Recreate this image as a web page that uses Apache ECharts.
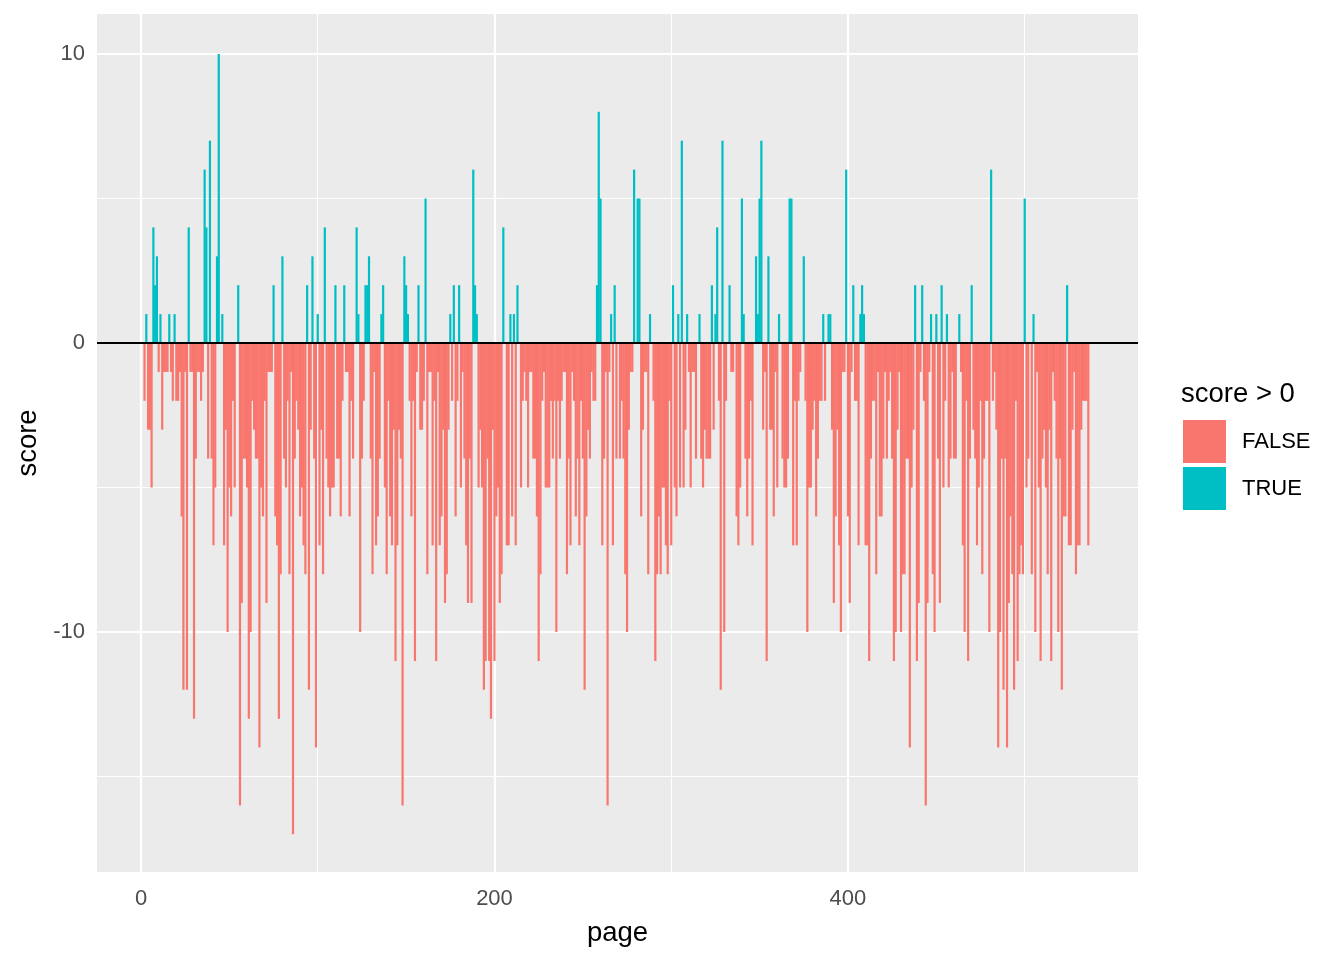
<!DOCTYPE html>
<html><head><meta charset="utf-8">
<script src="https://cdn.jsdelivr.net/npm/echarts@6/dist/echarts.min.js"></script>
<style>html,body{margin:0;padding:0;background:#fff}#c{width:1344px;height:960px}</style>
</head><body><div id="c"></div>
<script>
const firstPage = 2;
const scores = [
  -2, 1, -3, -3, -5, 4, 2, 3, -1, 1,
  -3, -1, -1, -1, 1, -1, -2, 1, -2, -2,
  -1, -6, -12, -1, -12, 4, -1, -1, -13, -4,
  -1, -1, -2, -1, 6, 4, -4, 7, -4, -7,
  -5, 3, 10, 0, 1, -7, -3, -10, -5, -6,
  -2, -5, 0, 2, -16, -9, -4, -4, -5, -13,
  -10, -2, -3, -4, -4, -14, -5, -6, -2, -9,
  -1, -1, -1, 2, -6, -7, -13, -8, 3, -4,
  -5, -2, -8, -1, -17, -4, -2, -3, -6, -5,
  -7, -8, 2, -12, -3, 3, -4, -14, 1, -7,
  -3, -8, 4, -4, -5, -6, -5, -5, 2, -4,
  -4, -6, -2, 2, -1, -1, -6, -2, -4, 0,
  4, 1, -10, -4, -2, 2, 2, 3, -4, -8,
  -1, -7, -6, -4, 1, 2, -5, -8, -2, -6,
  -7, -3, -11, -7, -3, -4, -16, 3, 2, 1,
  -2, -6, -2, -11, -1, 2, -3, -3, -2, 5,
  -8, -1, -1, -7, -2, -11, -1, -7, -6, -3,
  -9, -8, -3, 1, -2, 2, -6, -2, 2, -5,
  -1, -4, -7, -9, -4, -9, 6, 2, 1, -5,
  -3, -5, -12, -11, -4, -11, -13, -3, -11, -6,
  -5, -9, -8, 4, 0, -7, -7, 1, -6, 1,
  -7, 2, 0, -5, -2, -1, -2, -5, -1, -1,
  -4, -4, -6, -11, -8, -2, -1, -5, -5, -5,
  -2, -4, -2, -10, -2, -4, -2, -1, -1, -8,
  -4, -7, -1, -2, -6, -4, -7, -2, -4, -12,
  -6, -3, -4, -1, -2, -2, 2, 8, 5, -7,
  -4, -1, -16, -1, 1, -7, 2, -4, 0, -4,
  -2, -4, -8, -10, -3, -1, -1, 6, 0, 5,
  5, -6, -3, -1, -1, -8, 1, 0, -2, -11,
  -8, -6, -8, -5, -5, -7, -8, -2, -7, 2,
  -5, -6, 1, -5, 7, -5, -3, 1, -1, -5,
  -1, -1, -4, 0, 1, -4, -5, -3, -4, -4,
  -4, 2, -3, 1, 4, -2, -12, 7, -10, -2,
  0, 2, -1, -1, 0, -6, -7, -5, 5, 1,
  -4, -6, -4, -2, -7, 0, 3, 1, 5, 7,
  -3, -1, -11, 3, -3, -3, -6, -1, -5, 1,
  0, -4, -5, -5, -4, 5, 5, -7, -2, -7,
  -2, -1, 0, 3, -2, -10, -5, -5, -3, -2,
  -6, -4, -2, -2, 1, -2, 0, 1, 1, -3,
  -9, -6, -3, -7, -10, -1, -1, 6, -6, -9,
  -1, 2, -2, -2, -7, 1, 2, 1, -7, -7,
  -11, -4, -2, -2, -8, -1, -6, -6, -4, -1,
  -4, -2, -1, -4, -11, -10, -3, -1, -10, -8,
  -8, -4, -4, -14, -5, -3, 2, -11, -9, -1,
  2, -2, -16, -9, -1, 1, -8, -10, 1, -4,
  -9, 2, -5, -2, 1, -5, -4, -1, -4, -4,
  0, 1, -1, -7, -10, -2, -11, -4, 2, -3,
  -4, -7, -5, -2, -8, -4, -2, -2, -10, 6,
  -2, -1, -3, -14, -10, -4, -12, -4, -14, -9,
  -6, -8, -12, -2, -11, -8, -7, -8, 5, -5,
  -4, 0, -8, 1, -10, -1, -5, -11, -4, -3,
  -5, -8, -3, -11, -1, -2, -4, -10, -4, -12,
  -6, -6, 2, -7, -7, -3, -1, -8, -7, -7,
  -3, -2, -2, -2, -7
];
const xTickValues = [0, 200, 400];
const xMinorValues = [100, 300, 500];
const yTickValues = [-10, 0, 10];
const yMinorValues = [-15, -5, 5];
const groupNames = ['FALSE', 'TRUE'];
const groupColors = ['#F8766D', '#00BFC4'];
const legendTitle = 'score > 0';

const falseData = [], trueData = [];
scores.forEach(function (s, i) {
  const p = firstPage + i;
  if (s > 0) trueData.push([p, s]);
  else if (s < 0) falseData.push([p, s]);
});

const FONT = '"Liberation Sans", Arial, sans-serif';
const gridLines = [];
xTickValues.forEach(v => gridLines.push({xAxis: v, lineStyle: {color: '#ffffff', width: 2.2, type: 'solid'}}));
xMinorValues.forEach(v => gridLines.push({xAxis: v, lineStyle: {color: '#ffffff', width: 1.1, type: 'solid'}}));
yTickValues.forEach(v => gridLines.push({yAxis: v, lineStyle: {color: '#ffffff', width: 2.2, type: 'solid'}}));
yMinorValues.forEach(v => gridLines.push({yAxis: v, lineStyle: {color: '#ffffff', width: 1.1, type: 'solid'}}));

const chart = echarts.init(document.getElementById('c'), null, {renderer: 'canvas'});
chart.setOption({
  animation: false,
  textStyle: {fontFamily: FONT},
  title: {
    text: legendTitle, left: 1181, top: 380, padding: 0,
    textStyle: {fontSize: 27.5, fontWeight: 'normal', color: '#000000', fontFamily: FONT}
  },
  legend: {
    orient: 'vertical', left: 1183, top: 420, padding: 0,
    itemWidth: 43, itemHeight: 43, itemGap: 4, icon: 'rect',
    selectedMode: false, data: groupNames,
    textStyle: {fontSize: 22, color: '#000000', padding: [0, 0, 0, 11], fontFamily: FONT}
  },
  grid: {left: 97, top: 14, width: 1041, height: 858, show: true, backgroundColor: '#EBEBEB', borderWidth: 0, containLabel: false},
  xAxis: {
    type: 'value', min: -24.9, max: 564.1,
    name: 'page', nameLocation: 'middle', nameGap: 47,
    nameTextStyle: {fontSize: 27.5, color: '#000000', fontFamily: FONT},
    axisLine: {show: false},
    splitLine: {show: false},
    axisTick: {show: true, customValues: xTickValues, length: 7, lineStyle: {color: '#333333', width: 2}},
    axisLabel: {customValues: xTickValues, fontSize: 22, color: '#4D4D4D', margin: 16, fontFamily: FONT}
  },
  yAxis: {
    type: 'value', min: -18.304, max: 11.384,
    name: 'score', nameLocation: 'middle', nameGap: 53, nameRotate: 90,
    nameTextStyle: {fontSize: 27.5, color: '#000000', fontFamily: FONT},
    axisLine: {show: false},
    splitLine: {show: false},
    axisTick: {show: true, customValues: yTickValues, length: 7, lineStyle: {color: '#333333', width: 2}},
    axisLabel: {customValues: yTickValues, fontSize: 22, color: '#4D4D4D', margin: 12, fontFamily: FONT}
  },
  series: [
    {
      name: 'grid', type: 'line', data: [], z: 1, silent: true,
      markLine: {z: 1, silent: true, symbol: ['none', 'none'], label: {show: false}, animation: false, data: gridLines}
    },
    {
      name: groupNames[0], type: 'bar', data: falseData, barWidth: 2.2, barGap: '-100%',
      itemStyle: {color: groupColors[0]}, z: 2, silent: true
    },
    {
      name: groupNames[1], type: 'bar', data: trueData, barWidth: 2.2, barGap: '-100%',
      itemStyle: {color: groupColors[1]}, z: 2, silent: true
    },
    {
      name: 'hline', type: 'line', data: [], z: 5, silent: true,
      markLine: {z: 5, silent: true, symbol: ['none', 'none'], label: {show: false}, animation: false,
        data: [{yAxis: 0, lineStyle: {color: '#000000', width: 1.8, type: 'solid'}}]}
    }
  ]
});
</script>
</body></html>
